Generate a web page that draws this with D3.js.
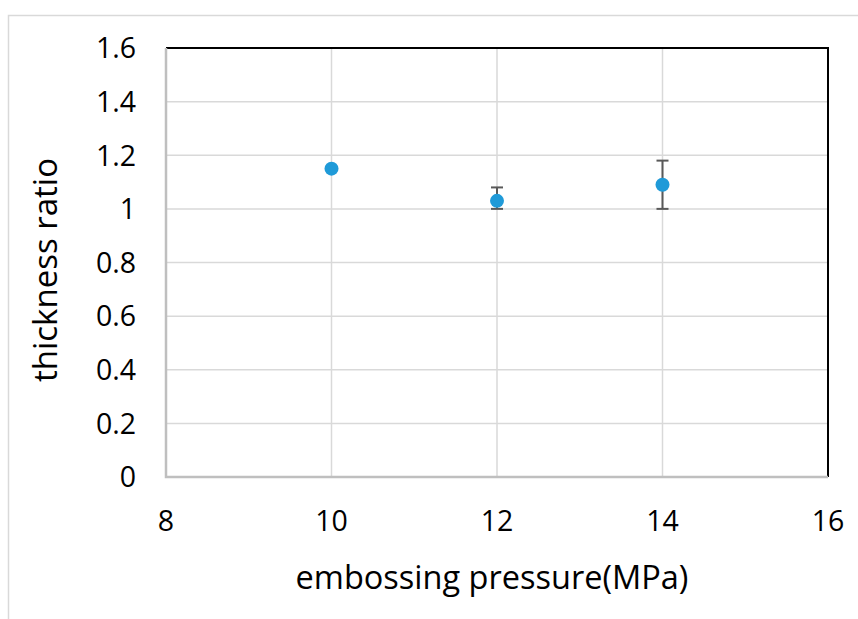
<!DOCTYPE html>
<html>
<head>
<meta charset="utf-8">
<script src="https://cdn.jsdelivr.net/npm/d3@7"></script>
<style>
  body { margin: 0; background: #fff; }
  text { font-family: "Open Sans", sans-serif; fill: #000; }
</style>
</head>
<body>
<div class="chart"></div>
<script>
// data
let pressure = [10, 12, 14];
let ratio = [1.15, 1.03, 1.09];
let errLow = [0.0, 0.03, 0.09];
let errHigh = [0.0, 0.05, 0.09];
let xTicks = [8, 10, 12, 14, 16];
let yTicks = [0, 0.2, 0.4, 0.6, 0.8, 1, 1.2, 1.4, 1.6];

let width = 858;
let height = 619;
let plotLeft = 166, plotTop = 48, plotRight = 828, plotBottom = 477;

let svg = d3.select(".chart")
  .append("svg")
  .attr("width", width)
  .attr("height", height);

// outer chart frame
svg.append("rect")
  .attr("x", 8.5)
  .attr("y", 15.5)
  .attr("width", 900)
  .attr("height", 700)
  .attr("fill", "none")
  .attr("stroke", "#d9d9d9")
  .attr("stroke-width", 1.5);

let x = d3.scaleLinear().domain([8, 16]).range([plotLeft, plotRight]);
let y = d3.scaleLinear().domain([0, 1.6]).range([plotBottom, plotTop]);

// gridlines
svg.append("g")
  .selectAll("line")
  .data(xTicks)
  .enter().append("line")
  .attr("x1", d => x(d)).attr("x2", d => x(d))
  .attr("y1", plotTop).attr("y2", plotBottom)
  .attr("stroke", "#d9d9d9")
  .attr("stroke-width", 1.5);

svg.append("g")
  .selectAll("line")
  .data(yTicks)
  .enter().append("line")
  .attr("x1", plotLeft).attr("x2", plotRight)
  .attr("y1", d => y(d)).attr("y2", d => y(d))
  .attr("stroke", "#d9d9d9")
  .attr("stroke-width", 1.5);

// top and right border (black)
svg.append("path")
  .attr("d", `M${plotLeft},${plotTop}H${plotRight}V${plotBottom}`)
  .attr("fill", "none")
  .attr("stroke", "#000")
  .attr("stroke-width", 2);

// left and bottom axis lines (gray)
svg.append("path")
  .attr("d", `M${plotLeft},${plotTop}V${plotBottom}H${plotRight}`)
  .attr("fill", "none")
  .attr("stroke", "#bfbfbf")
  .attr("stroke-width", 2.5);

// tick labels
svg.append("g")
  .selectAll("text")
  .data(yTicks)
  .enter().append("text")
  .attr("x", 136)
  .attr("y", d => y(d))
  .attr("dy", "0.36em")
  .attr("text-anchor", "end")
  .attr("font-size", 28.5)
  .text(d => d3.format("")(d));

svg.append("g")
  .selectAll("text")
  .data(xTicks)
  .enter().append("text")
  .attr("x", d => x(d))
  .attr("y", 531)
  .attr("text-anchor", "middle")
  .attr("font-size", 28.5)
  .text(d => d);

// axis titles
svg.append("text")
  .attr("transform", "translate(57,270) rotate(-90)")
  .attr("text-anchor", "middle")
  .attr("font-size", 33)
  .text("thickness ratio");

svg.append("text")
  .attr("x", 492)
  .attr("y", 589)
  .attr("text-anchor", "middle")
  .attr("font-size", 32.5)
  .text("embossing pressure(MPa)");

// error bars
let points = pressure.map((p, i) => ({ p: p, v: ratio[i], lo: errLow[i], hi: errHigh[i] }));

let bars = svg.append("g")
  .selectAll("g")
  .data(points.filter(d => d.lo > 0 || d.hi > 0))
  .enter().append("g")
  .attr("stroke", "#595959")
  .attr("stroke-width", 2);

bars.append("line")
  .attr("x1", d => x(d.p)).attr("x2", d => x(d.p))
  .attr("y1", d => y(d.v - d.lo)).attr("y2", d => y(d.v + d.hi));
bars.append("line")
  .attr("x1", d => x(d.p) - 6).attr("x2", d => x(d.p) + 6)
  .attr("y1", d => y(d.v + d.hi)).attr("y2", d => y(d.v + d.hi));
bars.append("line")
  .attr("x1", d => x(d.p) - 6).attr("x2", d => x(d.p) + 6)
  .attr("y1", d => y(d.v - d.lo)).attr("y2", d => y(d.v - d.lo));

// markers
svg.append("g")
  .selectAll("circle")
  .data(points)
  .enter().append("circle")
  .attr("cx", d => x(d.p))
  .attr("cy", d => y(d.v))
  .attr("r", 7)
  .attr("fill", "#1f9ad8");
</script>
</body>
</html>
